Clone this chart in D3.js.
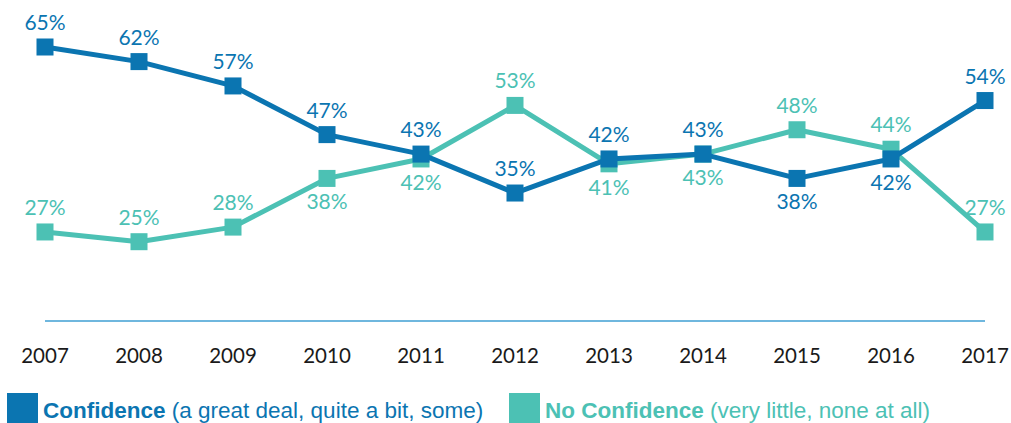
<!DOCTYPE html>
<html>
<head>
<script src="https://d3js.org/d3.v7.min.js"></script>
<style>
  body { margin: 0; background: #fff; }
  .pct { font-family: Lato, sans-serif; font-size: 21px; font-weight: 400; }
  .year { font-family: Lato, sans-serif; font-size: 20.5px; font-weight: 400; fill: #1a1a1a; }
  .legend { font-family: "Liberation Sans", Arial, sans-serif; font-size: 22.5px; }
</style>
</head>
<body>
<script>
// data
var years = [2007, 2008, 2009, 2010, 2011, 2012, 2013, 2014, 2015, 2016, 2017];
var confidence = [65, 62, 57, 47, 43, 35, 42, 43, 38, 42, 54];
var noConfidence = [27, 25, 28, 38, 42, 53, 41, 43, 48, 44, 27];
// label side: 1 = above, -1 = below
var confSide = [1, 1, 1, 1, 1, 1, 1, 1, -1, -1, 1];
var noSide = [1, 1, 1, -1, -1, 1, -1, -1, 1, 1, 1];

var blue = "#0b75b1", teal = "#4cc1b4";

var svg = d3.select("body").append("svg")
  .attr("width", 1011)
  .attr("height", 423);

var x = d3.scalePoint().domain(years).range([45, 985]);
var y = d3.scaleLinear().domain([25, 65]).range([241.7, 47]);

// axis baseline
svg.append("line")
  .attr("x1", 45).attr("x2", 985)
  .attr("y1", 321).attr("y2", 321)
  .attr("stroke", "#3f9fd3").attr("stroke-width", 1.5);

svg.selectAll(".year")
  .data(years)
  .enter().append("text")
  .attr("class", "year")
  .attr("x", function(d) { return x(d); })
  .attr("y", 363)
  .attr("text-anchor", "middle")
  .text(function(d) { return d; });

var line = d3.line()
  .x(function(d, i) { return x(years[i]); })
  .y(function(d) { return y(d); });

function drawSeries(vals, sides, color) {
  svg.append("path")
    .datum(vals)
    .attr("d", line)
    .attr("fill", "none")
    .attr("stroke", color)
    .attr("stroke-width", 5)
    .attr("stroke-linejoin", "round");

  svg.selectAll(null)
    .data(vals)
    .enter().append("rect")
    .attr("x", function(d, i) { return x(years[i]) - 8.5; })
    .attr("y", function(d) { return y(d) - 8.5; })
    .attr("width", 17)
    .attr("height", 17)
    .attr("fill", color);

  svg.selectAll(null)
    .data(vals)
    .enter().append("text")
    .attr("class", "pct")
    .attr("fill", color)
    .attr("text-anchor", "middle")
    .attr("x", function(d, i) { return x(years[i]); })
    .attr("y", function(d, i) { return sides[i] > 0 ? y(d) - 17 : y(d) + 31; })
    .text(function(d) { return d + "%"; });
}

drawSeries(noConfidence, noSide, teal);
drawSeries(confidence, confSide, blue);

// legend
var legend = [
  { x: 7, color: blue, bold: "Confidence", rest: " (a great deal, quite a bit, some)" },
  { x: 509, color: teal, bold: "No Confidence", rest: " (very little, none at all)" }
];
legend.forEach(function(l) {
  svg.append("rect")
    .attr("x", l.x).attr("y", 393)
    .attr("width", 31).attr("height", 30)
    .attr("fill", l.color);
  var t = svg.append("text")
    .attr("class", "legend")
    .attr("x", l.x + 36)
    .attr("y", 418)
    .attr("fill", l.color);
  t.append("tspan").attr("font-weight", "bold").text(l.bold);
  t.append("tspan").text(l.rest);
});
</script>
</body>
</html>
